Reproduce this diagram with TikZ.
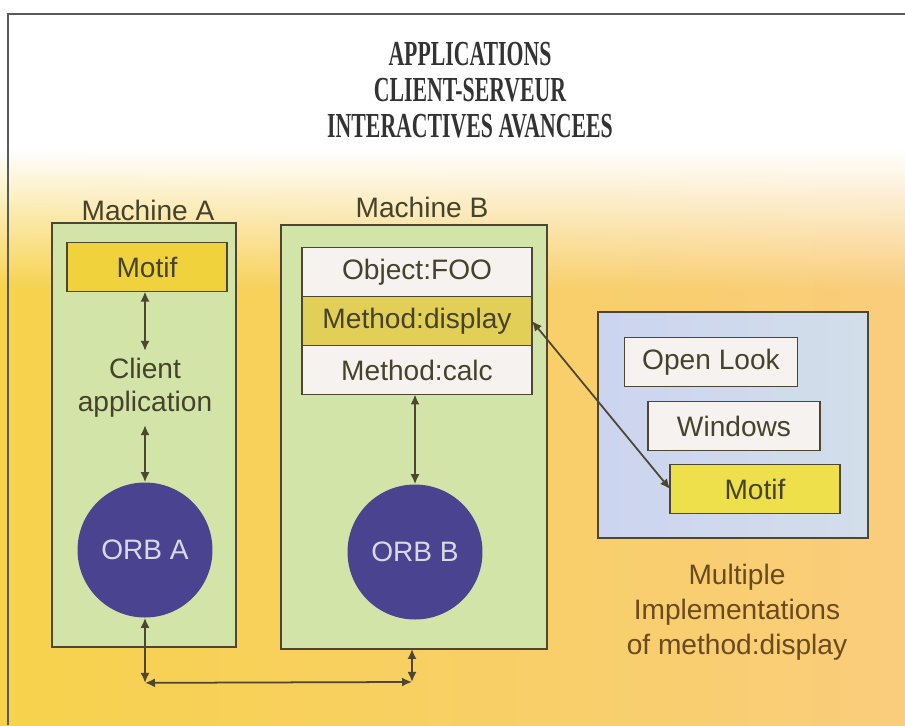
\documentclass[tikz,border=0pt]{standalone}
\usepackage{fontspec}
\setmainfont{Liberation Sans}
\newfontfamily\cstitlefont[FakeStretch=0.62]{Liberation Serif}
\usetikzlibrary{arrows.meta,positioning,fadings}
\definecolor{csline}{HTML}{4D4632}
\definecolor{csframe}{HTML}{5A5A5A}
\definecolor{csink}{HTML}{45432C}
\definecolor{csbrown}{HTML}{6A4A1E}
\definecolor{csbgleft}{HTML}{F7D24C}
\definecolor{csbgmid}{HTML}{F9C168}
\definecolor{csbgright}{HTML}{F9CD7C}
\definecolor{csgreen}{HTML}{D2E4A8}
\definecolor{csblue}{HTML}{CCD4F0}
\definecolor{csblue2}{HTML}{D2DEEA}
\definecolor{cswhite}{HTML}{F6F2F0}
\definecolor{csmotif}{HTML}{EFD23C}
\definecolor{csdisp}{HTML}{E2CF58}
\definecolor{csmotiff}{HTML}{EEE04A}
\definecolor{csorbfill}{HTML}{4A4390}
\definecolor{csorbtext}{HTML}{D9D9E6}
\tikzset{
  csfont/.style={font=\fontsize{16}{19}\selectfont},
  csmach/.style={draw=csline, fill=csgreen, line width=1.1pt, outer sep=0pt},
  cslayer/.style={draw=csline, line width=1.1pt, outer sep=0pt, minimum height=0.98cm,
                  csfont, text=csink},
  csimpl/.style={draw=csline, line width=1.1pt, left color=csblue, right color=csblue2,
                 minimum width=5.4cm, minimum height=4.52cm},
  cslab/.style={csfont, text=csink, inner sep=2pt},
  cstext/.style={csfont, text=csink, align=center, inner sep=4pt},
  cscap/.style={font=\fontsize{16}{20}\selectfont, text=csbrown, align=center},
  csorb/.style={circle, fill=csorbfill, minimum size=2.7cm, inner sep=0pt, csfont,
                text=csorbtext},
  cstitle/.style={font=\cstitlefont\bfseries\fontsize{20}{20.5}\selectfont, text=black!80,
                  align=center},
  csar/.style={<->, >={Latex[length=2mm,width=1.8mm]}, line width=1pt, draw=csline},
}
\begin{document}
\begin{tikzpicture}[x=0.02cm,y=-0.02cm]
  \useasboundingbox (0,0) rectangle (905,725);
  % background
  \shade[left color=csbgleft, middle color=csbgmid, right color=csbgright] (0,0) rectangle (905,725);
  \fill[white] (0,0) rectangle (905,100);
  \fill[white, path fading=south, fit fading=false,
        fading transform={shift={(9.05cm,-4.4cm)}, xscale=6, yscale=1.6}]
    (0,90) rectangle (905,330);
  \draw[csframe, line width=1pt] (8,725) -- (8,14) -- (905,14);

  \node[cstitle] (title) at (470,90) {APPLICATIONS\\CLIENT-SERVEUR\\INTERACTIVES AVANCEES};

  % machine A
  \node[csmach, minimum width=3.68cm, minimum height=8.48cm] (machA) at (144,435) {};
  \node[cslab] (labA) at (148,210) {Machine A};
  \node[cslayer, fill=csmotif, minimum width=3.2cm] (motifA) at (147,267) {Motif};
  \node[cstext] (client) at (145,388) {Client\\application};
  \node[csorb] (orbA) at (145,550) {ORB A};

  % machine B
  \node[csmach, minimum width=5.32cm, minimum height=8.48cm] (machB) at (414,437) {};
  \node[cslab] (labB) at (422,207) {Machine B};
  \node[cslayer, fill=cswhite, minimum width=4.6cm] (foo) at (417,272) {Object:FOO};
  \node[cslayer, fill=csdisp, minimum width=4.6cm, below=0pt of foo] (disp) {Method:display};
  \node[cslayer, fill=cswhite, minimum width=4.6cm, below=0pt of disp] (calc) {Method:calc};
  \node[csorb] (orbB) at (415,552) {ORB B};

  % implementations
  \node[csimpl] (impl) at (733,425) {};
  \node[cslayer, fill=cswhite, minimum width=3.46cm] (olook) at (711,362) {Open Look};
  \node[cslayer, fill=cswhite, minimum width=3.44cm] (win) at (734,426) {Windows};
  \node[cslayer, fill=csmotiff, minimum width=3.4cm] (motifB) at (755,489) {Motif};
  \node[cscap] (cap) at (737,612) {Multiple\\Implementations\\of method:display};

  \path (orbA.south) ++(0,65) coordinate (busL);
  \path (machB.south -| orbB) ++(-3,33) coordinate (busR);

  \draw[csar] (motifA.south -| client.north) -- (client.north);
  \draw[csar] (client.south) -- (orbA.north);
  \draw[csar] (calc.south -| orbB.north) -- (orbB.north);
  \draw[csar] (disp.east) -- (motifB.west);
  \draw[csar] (orbA.south) -- (busL);
  \draw[csar] (busL) -- (busR);
  \draw[csar] (busR) -- (busR |- machB.south);
\end{tikzpicture}
\end{document}
